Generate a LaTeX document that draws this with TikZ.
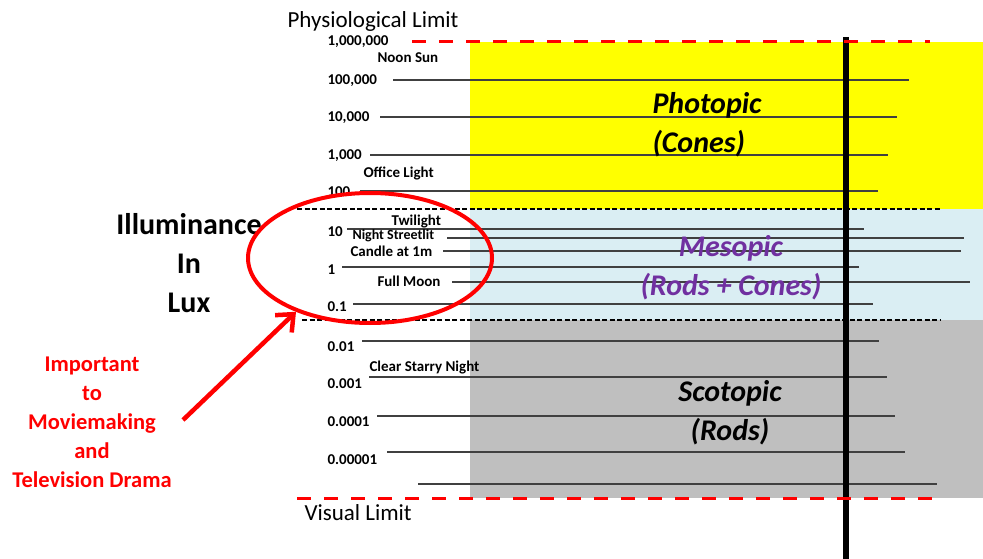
\documentclass[tikz,border=0pt]{standalone}
\usepackage{fontspec}
\setmainfont{Carlito}
\usetikzlibrary{shapes.geometric,arrows.meta}
\definecolor{photo}{HTML}{FFFF00}
\definecolor{meso}{HTML}{DAEEF3}
\definecolor{scoto}{HTML}{BFBFBF}
\definecolor{mesotext}{HTML}{7030A0}
\definecolor{tick}{HTML}{404040}

\begin{document}
\begin{tikzpicture}[x=1pt,y=-1pt,
        val/.style={anchor=west,font=\fontsize{15}{17}\selectfont\bfseries},
        zone/.style={font=\fontsize{30}{39}\selectfont\bfseries\itshape,align=center},
        level/.style={draw=tick,line width=1.2pt},
        limit/.style={red,line width=3pt,dash pattern=on 14pt off 13pt},
        border/.style={black,line width=2pt,dash pattern=on 5pt off 2.5pt}]
    \useasboundingbox (0,0) rectangle (983,559);
    % vision zones
    \fill[photo] (470,42) rectangle (983,209);
    \fill[meso] (470,209) rectangle (983,320);
    \fill[scoto] (470,320) rectangle (983,498);

    \foreach \y/\a/\b in {80/393/909, 117/380/897, 155/370/888, 191/360/878,
        229/347/864, 238/447/964, 251/443/961, 267/342/859, 282/452/970, 304/353/873,
        341/362/879, 377/369/887, 416/377/895, 452/387/905, 484/418/937}
        \draw[level] (\a,\y) -- (\b,\y);

    \draw[border] (297,209) -- (940,209);
    \draw[border] (302,320) -- (940,320);
    \draw[black,line width=5.5pt] (846,37) -- (846,559);
    \draw[limit] (412,42) -- (930,42);
    \draw[limit] (297,498) -- (940,498);

    \node[zone,align=left,anchor=north west] (photopic) at (649,89) {Photopic\\(Cones)};
    \node[zone,mesotext] (mesopic) at (731,268) {Mesopic\\(Rods + Cones)};
    \node[zone] (scotopic) at (730,413) {Scotopic\\(Rods)};

    % scale
    \node[font=\fontsize{23}{26}\selectfont,anchor=west] (phys) at (284,21) {Physiological Limit};
    \node[font=\fontsize{23}{26}\selectfont,anchor=west] (vis) at (301,513) {Visual Limit};
    \foreach \y/\v in {42/{1,000,000}, 81/{100,000}, 118/{10,000}, 156/{1,000}, 192/100,
        232/10, 270/1, 307/0.1, 347/0.01, 384/0.001, 422/0.0001, 460/0.00001}
        \node[val] at (324,\y) {\v};

    \node[val] (sun) at (374,58) {Noon Sun};
    \node[val] (office) at (360,173) {Office Light};
    \node[val] (twilight) at (388,222) {Twilight};
    \node[val,font=\fontsize{14}{16}\selectfont\bfseries] (street) at (349,236) {Night Streetlit};
    \node[val] (candle) at (347,251) {Candle at 1m};
    \node[val] (moon) at (374,281) {Full Moon};
    \node[val] (stars) at (366,368) {Clear Starry Night};

    \node[font=\fontsize{30}{39}\selectfont\bfseries,align=center] (lux) at (189,263) {Illuminance\\In\\Lux};
    \node[red,font=\fontsize{22.5}{29}\selectfont\bfseries,align=center] (note) at (92,422) {Important\\to\\Moviemaking\\and\\Television Drama};

    \node[draw=red,ellipse,line width=4pt,minimum width=244pt,minimum height=130pt] (circ) at (370,258) {};
    \coordinate (tail) at (183,420);
    \draw[red,line width=4.5pt,-{Straight Barb[length=14pt,width=24pt]}] (tail) -- (circ.216);
\end{tikzpicture}
\end{document}
